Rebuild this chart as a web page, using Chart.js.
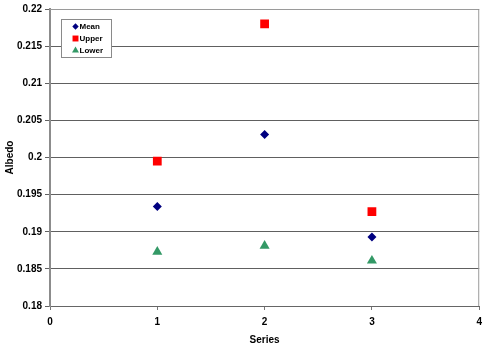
<!DOCTYPE html>
<html>
<head>
<meta charset="utf-8">
<script src="https://cdn.jsdelivr.net/npm/chart.js@4/dist/chart.umd.min.js"></script>
<style>
  html, body { margin: 0; padding: 0; background: #ffffff; }
  #wrap { width: 488px; height: 347px; }
</style>
</head>
<body>
<div id="wrap"><canvas id="c" width="488" height="347"></canvas></div>
<script>
// Series positions on the x axis
const seriesX = [1, 2, 3];
// Albedo values per series
const meanVals  = [0.1934, 0.2031, 0.1893];
const upperVals = [0.1995, 0.2180, 0.1927];
const lowerVals = [0.1873, 0.1881, 0.1861];
// Axis tick labels
const xTickLabels = ['0', '1', '2', '3', '4'];
const yTickLabels = ['0.18', '0.185', '0.19', '0.195', '0.2', '0.205', '0.21', '0.215', '0.22'];

const pts = vals => seriesX.map((x, i) => ({ x: x, y: vals[i] }));

const FONT = 'Arial, "Liberation Sans", sans-serif';

// Grey frame around the plotting area
const frame = {
  id: 'frame',
  afterDraw(chart) {
    const a = chart.chartArea, ctx = chart.ctx;
    ctx.save();
    ctx.strokeStyle = '#9a9a9a';
    ctx.lineWidth = 1;
    ctx.beginPath();
    ctx.moveTo(a.left, a.top + 0.5);
    ctx.lineTo(a.right - 0.5, a.top + 0.5);
    ctx.lineTo(a.right - 0.5, a.bottom);
    ctx.stroke();
    ctx.restore();
  }
};

// Boxed legend inside the top-left corner of the plot
const boxLegend = {
  id: 'boxLegend',
  afterDraw(chart) {
    const ctx = chart.ctx, a = chart.chartArea;
    const x0 = a.left + 11.5, y0 = a.top + 10.5, w = 50, h = 38;
    ctx.save();
    ctx.fillStyle = '#ffffff';
    ctx.fillRect(x0, y0, w, h);
    ctx.strokeStyle = '#8a8a8a';
    ctx.lineWidth = 1;
    ctx.strokeRect(x0, y0, w, h);
    ctx.font = 'bold 8px ' + FONT;
    ctx.textBaseline = 'middle';
    ctx.textAlign = 'left';
    chart.data.datasets.forEach((ds, i) => {
      const cy = y0 + 7 + i * 12;
      const cx = x0 + 14;
      ctx.fillStyle = ds.pointBackgroundColor;
      Chart.helpers.drawPoint(ctx, {
        pointStyle: ds.pointStyle,
        radius: ds.legendRadius,
        rotation: 0,
        borderWidth: 0
      }, cx, cy);
      ctx.fillStyle = '#000000';
      ctx.fillText(ds.label, cx + 4, cy + 0.5);
    });
    ctx.restore();
  }
};

new Chart(document.getElementById('c'), {
  type: 'scatter',
  data: {
    datasets: [
      { label: 'Mean',  data: pts(meanVals),  pointStyle: 'rectRot', pointRadius: 4.5, legendRadius: 3.2,
        pointBackgroundColor: '#000080', pointBorderWidth: 0 },
      { label: 'Upper', data: pts(upperVals), pointStyle: 'rect', pointRadius: 6.2, legendRadius: 4.2,
        pointBackgroundColor: '#ff0000', pointBorderWidth: 0 },
      { label: 'Lower', data: pts(lowerVals), pointStyle: 'triangle', pointRadius: 5.8, legendRadius: 4,
        pointBackgroundColor: '#339966', pointBorderWidth: 0 }
    ]
  },
  options: {
    responsive: false,
    animation: false,
    events: [],
    layout: { padding: { top: 7, right: 8, left: 0, bottom: 0 } },
    plugins: { legend: { display: false }, tooltip: { enabled: false } },
    scales: {
      x: {
        type: 'linear', min: 0, max: 4,
        afterFit(s) { s.height = 41; },
        afterBuildTicks(s) { s.ticks = xTickLabels.map(Number).map(v => ({ value: v })); },
        ticks: {
          callback: (v, i) => xTickLabels[i],
          color: '#000', font: { family: FONT, size: 10, weight: 'bold' }, padding: 6
        },
        grid: { drawOnChartArea: false, drawTicks: true, tickLength: 4, color: '#777' },
        border: { color: '#666', width: 1 },
        title: {
          display: true, text: 'Series', color: '#000',
          font: { family: FONT, size: 10, weight: 'bold' }, padding: { top: 0, bottom: 1 }
        }
      },
      y: {
        type: 'linear', min: 0.18, max: 0.22,
        afterFit(s) { s.width = 50; },
        afterBuildTicks(s) { s.ticks = yTickLabels.map(Number).map(v => ({ value: v })); },
        ticks: {
          callback: (v, i) => yTickLabels[i],
          color: '#000', font: { family: FONT, size: 10, weight: 'bold' }, padding: 3
        },
        grid: { color: '#606060', lineWidth: 1, drawTicks: true, tickLength: 5 },
        border: { color: '#8c8c8c', width: 2 },
        title: {
          display: true, text: 'Albedo', color: '#000',
          font: { family: FONT, size: 10, weight: 'bold' }, padding: { top: 4, bottom: 0 }
        }
      }
    }
  },
  plugins: [frame, boxLegend]
});
</script>
</body>
</html>
